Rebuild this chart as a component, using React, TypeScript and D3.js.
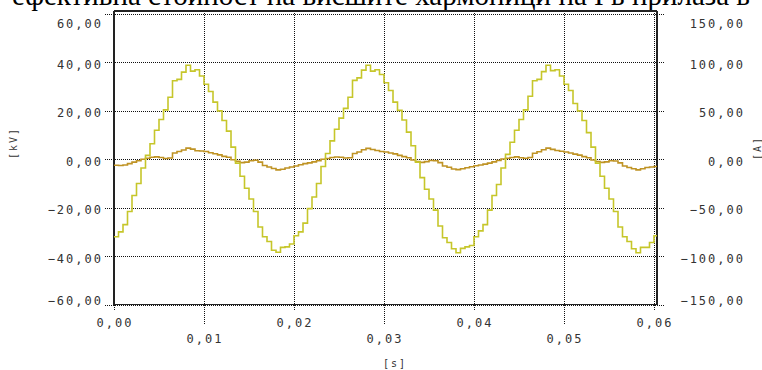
import * as d3 from "d3";
import React from "react";

// sample step of the recorded waveforms [s]
const dt = 0.0005;

// voltage [kV], left axis
const voltage = [
  -2.5, -2.6, -2.4, -1.8, -1.2, -0.6, 0, 0.4, 0.8, 1.0, 0.7, 0.3, 0.5, 2.6, 3.2, 3.8, 4.6, 4.2, 3.5, 3.4,
  3.2, 2.7, 2.3, 1.8, 1.2, 0.8, -0.2, -0.8, -1.4, -1.2, -0.6, -0.4, -1.2, -2.6, -3.2, -3.8, -4.4, -4.1, -3.6, -3.2,
  -2.8, -2.3, -1.8, -1.5, -1.1, -0.6, 0, 0.3, 0.7, 0.9, 0.8, 0.5, 0.6, 2.4, 3.0, 3.9, 4.5, 4.0, 3.6, 3.2,
  3.0, 2.6, 2.2, 1.6, 1.1, 0.6, -0.3, -0.9, -1.3, -1.0, -0.5, -0.6, -1.4, -2.8, -3.3, -4.0, -4.3, -3.9, -3.5, -3.1,
  -2.7, -2.4, -2.0, -1.6, -1.1, -0.5, 0.1, 0.4, 0.7, 1.0, 0.6, 0.4, 0.7, 2.5, 3.1, 3.9, 4.6, 4.1, 3.6, 3.3,
  3.0, 2.6, 2.1, 1.7, 1.1, 0.6, -0.3, -0.9, -1.3, -1.1, -0.6, -0.7, -1.5, -2.8, -3.4, -3.9, -4.4, -3.9, -3.4, -3.2,
  -3.0, -2.4,
];

// current [A], right axis
const current = [
  -80, -75, -67.5, -54, -37.5, -25, -9, 4, 16, 30, 41, 51, 64, 81, 82.5, 90, 97, 91, 92.5, 86,
  77.5, 70, 59, 50, 40, 29, 12.5, -4, -17.5, -30, -41, -54, -70, -80, -85, -94, -96, -91, -90.5, -87.5,
  -79, -75, -66, -51, -39, -25, -7.5, 6, 19, 31, 42.5, 52.5, 64, 81.5, 84, 92, 97, 91, 92.5, 87.5,
  79, 71, 59, 50.5, 40.5, 28, 14, -3, -19, -31, -41, -52.5, -69, -81, -86, -92.5, -96.5, -92, -90.5, -89,
  -80, -74, -67.5, -52.5, -37.5, -26, -9, 5, 17.5, 30, 41, 51, 65, 81, 82.5, 90.5, 97, 91.5, 92.5, 86,
  77.5, 71, 57.5, 50, 40, 27.5, 12.5, -4, -17.5, -30, -41, -54, -70, -80, -85, -92.5, -96.5, -91, -91, -86,
  -79, -72.5,
];

const xTicks = [0, 0.01, 0.02, 0.03, 0.04, 0.05, 0.06];
const kvTicks = [60, 40, 20, 0, -20, -40, -60];
const aTicks = [150, 100, 50, 0, -50, -100, -150];

const title = "ефективна стойност на висшите хармоници на I в прилаза в";

const fmt = (v: number, d: number) => v.toFixed(d).replace(".", ",").replace("-", "\u2212");

export default function App() {
  const width = 762;
  const height = 370;
  const left = 114;
  const right = 657;
  const top = 11;
  const bottom = 304.5;

  const x = d3.scaleLinear().domain([0, 0.06]).range([left, 654]);
  const yL = d3.scaleLinear().domain([-60, 60]).range([bottom, 14]);
  const yR = d3.scaleLinear().domain([-150, 150]).range([bottom, 14]);

  const lineV = d3
    .line<number>()
    .x((_, i) => x(i * dt))
    .y((d) => yL(d))
    .curve(d3.curveStepAfter);
  const lineA = d3
    .line<number>()
    .x((_, i) => x(i * dt))
    .y((d) => yR(d))
    .curve(d3.curveStepAfter);

  const font = "'DejaVu Sans Mono', monospace";
  const px = (v: number) => Math.round(v) + 0.5;

  const labelY = (y: number, i: number, n: number) =>
    i === 0 ? y + 10 : i === n - 1 ? y - 4 : y + 2.5;

  return (
    <svg
      width={width}
      height={height}
      style={{ position: "absolute", left: 0, top: 0, background: "#fff" }}
    >
      <defs>
        <clipPath id="plot">
          <rect x={left} y={top} width={right - left} height={bottom - top} />
        </clipPath>
      </defs>

      <text
        x={width / 2}
        y={5}
        textAnchor="middle"
        fontFamily="'Liberation Serif', serif"
        fontSize={29}
        fill="#000"
      >
        {title}
      </text>

      {/* horizontal grid */}
      <g stroke="#111" strokeDasharray="1,1" shapeRendering="crispEdges">
        {kvTicks.map((t) => (
          <line key={t} x1={105} x2={665} y1={px(yL(t))} y2={px(yL(t))} />
        ))}
        {xTicks.map((t, i) => (
          <line
            key={t}
            x1={px(x(t))}
            x2={px(x(t))}
            y1={top}
            y2={i % 2 === 0 ? 311 : 325}
          />
        ))}
      </g>

      {/* frame */}
      <g stroke="#222" strokeWidth={1.4} fill="none" shapeRendering="crispEdges">
        <line x1={left} x2={left} y1={top} y2={bottom} />
        <line x1={left} x2={right} y1={top} y2={top} />
        <line x1={right} x2={right} y1={top} y2={bottom} />
        <line x1={left} x2={right} y1={bottom} y2={bottom} />
      </g>

      <g clipPath="url(#plot)" fill="none" strokeWidth={1.6} strokeLinejoin="miter">
        <path d={lineV(voltage) ?? ""} stroke="#bf9324" />
        <path d={lineA(current) ?? ""} stroke="#c6c62a" />
      </g>

      <g fontFamily={font} fontSize={12} fill="#333" letterSpacing={2} dominantBaseline="central">
        {kvTicks.map((t, i) => (
          <text key={t} x={103} y={labelY(yL(t), i, kvTicks.length)} textAnchor="end">
            {fmt(t, 2)}
          </text>
        ))}
        {aTicks.map((t, i) => (
          <text key={t} x={745} y={labelY(yR(t), i, aTicks.length)} textAnchor="end">
            {fmt(t, 2)}
          </text>
        ))}
        {xTicks.map((t, i) => (
          <text key={t} x={x(t) + 1} y={i % 2 === 0 ? 323 : 339} textAnchor="middle">
            {fmt(t, 2)}
          </text>
        ))}
        <text x={395} y={363} textAnchor="middle" fontSize={10}>
          [s]
        </text>
        <text transform="translate(13,143) rotate(-90)" textAnchor="middle" fontSize={10}>
          [kV]
        </text>
        <text transform="translate(757,148) rotate(-90)" textAnchor="middle" fontSize={10}>
          [A]
        </text>
      </g>
    </svg>
  );
}
